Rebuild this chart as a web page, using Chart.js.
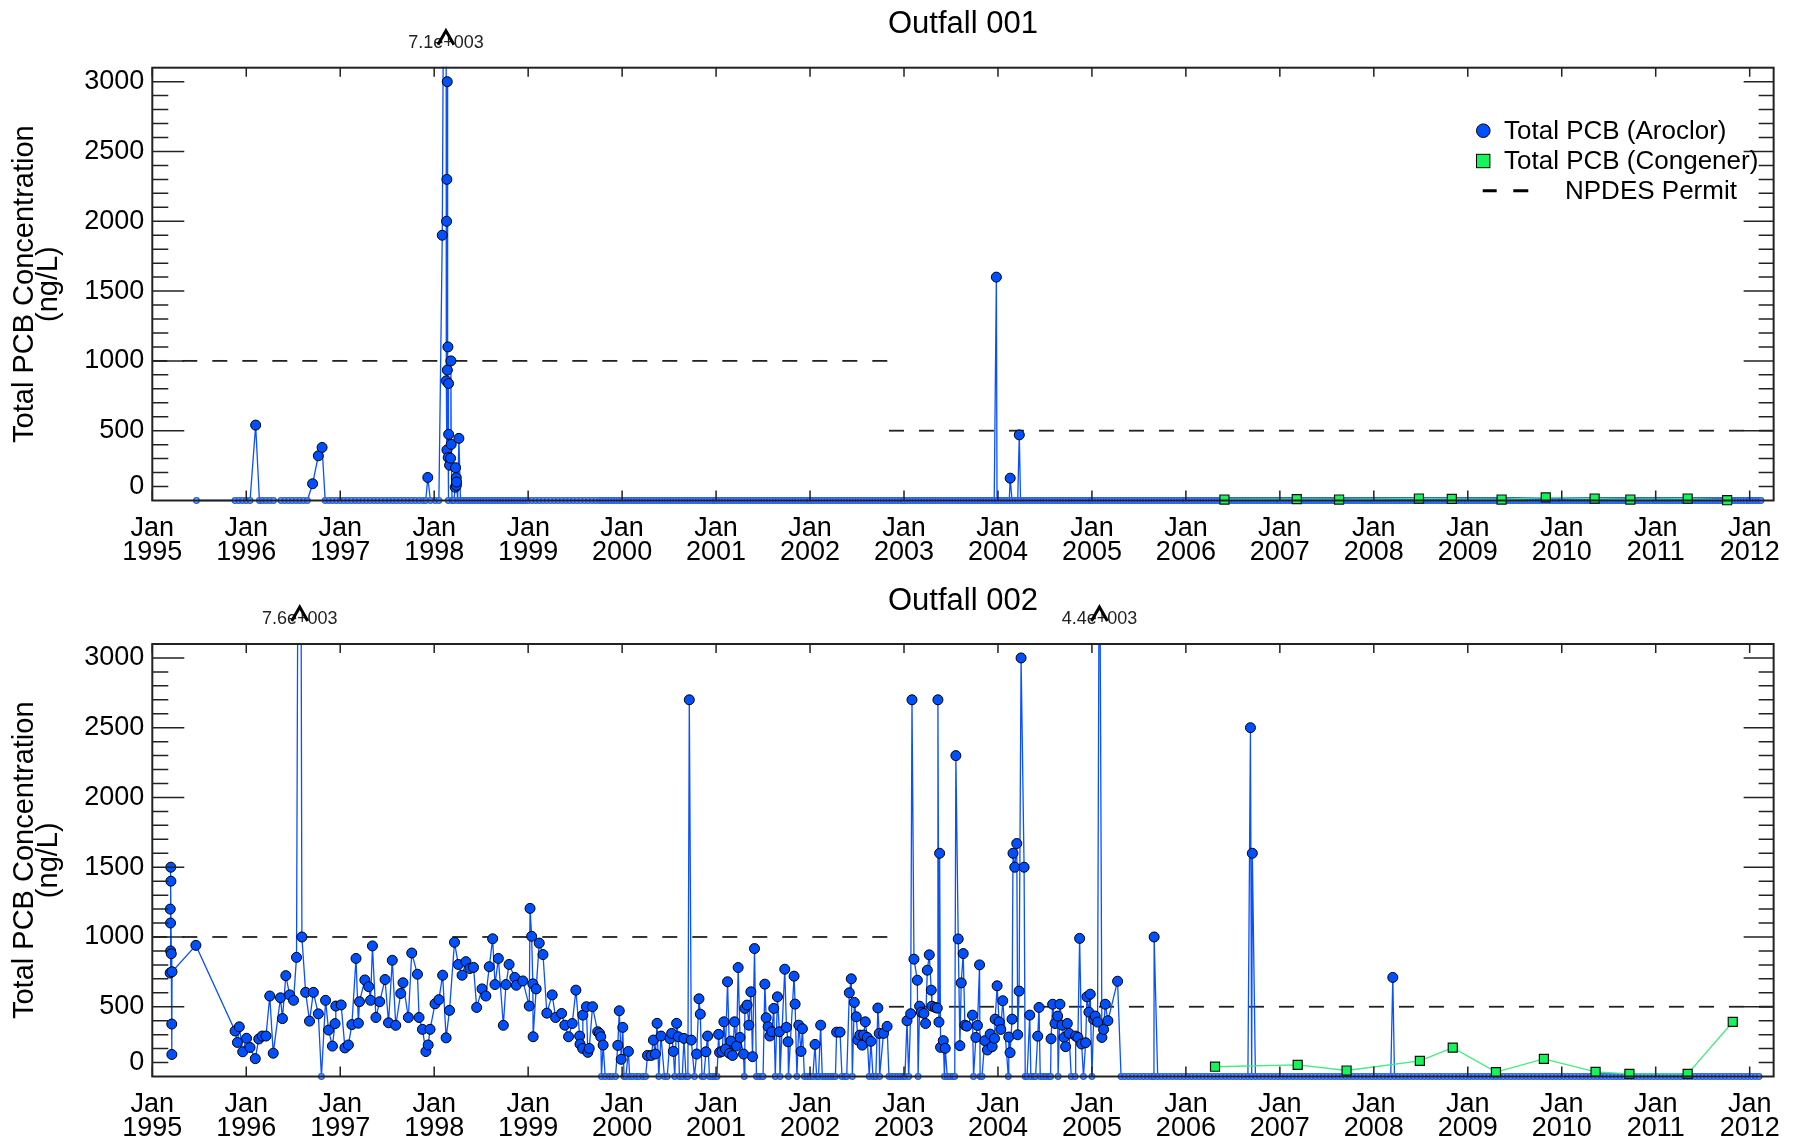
<!DOCTYPE html>
<html lang="en">
<head>
<meta charset="UTF-8">
<title>Total PCB Concentration - Outfall 001 / 002</title>
<script src="https://cdn.jsdelivr.net/npm/chart.js"></script>
<style>
  body { margin: 0; background: #fff; }
  canvas { position: absolute; left: 0; }
  #top { top: 0; }
  #bottom { top: 572px; }
</style>
</head>
<body>
<canvas id="top" width="1796" height="572"></canvas>
<canvas id="bottom" width="1796" height="571"></canvas>
<script>
// x values are decimal years
const yearTicks = [1995, 1996, 1997, 1998, 1999, 2000, 2001, 2002, 2003, 2004, 2005, 2006, 2007, 2008, 2009, 2010, 2011, 2012];
const yLabelTicks = [100, 500, 1000, 1500, 2000, 2500, 3000];
const yLabelText = ['0', '500', '1000', '1500', '2000', '2500', '3000'];
const yMajorTicks = [500, 1000, 1500, 2000, 2500, 3000];
const yMinorTicks = [100, 200, 300, 400, 500, 600, 700, 800, 900, 1000, 1100, 1200, 1300, 1400, 1500,
  1600, 1700, 1800, 1900, 2000, 2100, 2200, 2300, 2400, 2500, 2600, 2700, 2800, 2900, 3000];

// NPDES permit limit (ng/L)
const permitFrom = [1995, 2002.84];
const permitTo = [2002.84, 2012.255];
const permitLimit = [1000, 500];

// Outfall 001 - Aroclor detects
const aroclor001Dates = [1996.10, 1996.706, 1996.767, 1996.807, 1997.932, 1998.086, 1998.125, 1998.129, 1998.132,
  1998.135, 1998.136, 1998.139, 1998.140, 1998.146, 1998.149, 1998.153, 1998.154, 1998.164, 1998.174, 1998.178,
  1998.181, 1998.224, 1998.227, 1998.235, 1998.236, 1998.238, 1998.263, 2003.983, 2004.13, 2004.227];
const aroclor001Values = [540, 120, 320, 380, 165, 1900, 7100, 857, 2000,
  2300, 362, 3000, 934, 1100, 308, 838, 474, 253, 303, 1000,
  402, 95, 235, 163, 109, 132, 445, 1600, 160, 470];
// Outfall 001 - Aroclor non-detects, "year: hundredths of year"
const nd001Dates = [
  '1995: 47 88 92 96',
  '1996: 00 04 14 17 21 25 29 37 41 45 49 53 57 61 65 84 88 92 96',
  '1997: 00 04 08 12 16 20 24 28 32 36 40 44 48 52 56 60 64 68 72 76 80 84 88 91 96',
  '1998: 01 05 15 19 21 25 28 31 34 37 40 43 46 49 52 55 58 61 64 67 70 73 76 79 82 85 88 91 94 97',
  '1999: 00 04 08 12 16 20 24 28 32 36 40 44 48 52 56 60 64 68 72 76 79 82 85 88 91 94 97',
  '2000: 00 03 06 09 12 15 18 21 24 27 30 33 36 39 42 45 48 51 54 57 60 63 66 69 72 75 78 81 84 87 90 93 96 99',
  '2001: 00 03 06 09 12 15 18 21 24 27 30 33 36 39 42 45 48 51 54 57 60 63 66 69 72 75 78 81 84 87 90 93 96 99',
  '2002: 00 03 06 09 12 15 18 21 24 27 30 33 36 39 42 45 48 51 54 57 60 63 66 69 72 75 78 81 84 87 90 93 96 99',
  '2003: 00 03 06 09 12 15 18 21 24 27 30 33 36 39 42 45 48 51 54 57 60 63 66 69 72 75 78 81 84 87 90 93 96 99',
  '2004: 00 03 06 09 12 15 18 21 24 27 30 33 36 39 42 45 48 51 54 57 60 63 66 69 72 75 78 81 84 87 90 93 96 99',
  '2005: 00 03 06 09 12 15 18 21 24 27 30 33 36 39 42 45 48 51 54 57 60 63 66 69 72 75 78 81 84 87 90 93 96 99',
  '2006: 00 03 06 09 12 15 18 21 24 27 30 33 36 39 42 45 48 51 54 57 60 63 66 69 72 75 78 81 84 87 90 93 96 99',
  '2007: 00 03 06 09 12 15 18 21 24 27 30 33 36 39 42 45 48 51 54 57 60 63 66 69 72 75 78 81 84 87 90 93 96 99',
  '2008: 00 03 06 09 12 15 18 21 24 27 30 33 36 39 42 45 48 51 54 57 60 63 66 69 72 75 78 81 84 87 90 93 96 99',
  '2009: 00 03 06 09 12 15 18 21 24 27 30 33 36 39 42 45 48 51 54 57 60 63 66 69 72 75 78 81 84 87 90 93 96 99',
  '2010: 00 03 06 09 12 15 18 21 24 27 30 33 36 39 42 45 48 51 54 57 60 63 66 69 72 75 78 81 84 87 90 93 96 99',
  '2011: 00 03 06 09 12 15 18 21 24 27 30 33 36 39 42 45 48 51 54 57 60 63 66 69 72 75 78 81 84 87 90 93 96 99',
  '2012: 00 03 06 09 12'
];
// Outfall 001 - Congener
const congener001Dates = [2006.41, 2007.18, 2007.63, 2008.48, 2008.83, 2009.36, 2009.83, 2010.35, 2010.73, 2011.34, 2011.76];
const congener001Values = [7, 10, 7, 14, 12, 7, 22, 14, 7, 14, 2];

// Outfall 002 - Aroclor detects
const aroclor002Dates = [1995.190, 1995.191, 1995.194, 1995.195, 1995.197, 1995.198, 1995.202, 1995.207, 1995.208, 1995.210,
  1995.464, 1995.881, 1995.906, 1995.926, 1995.962, 1996.003, 1996.040, 1996.096, 1996.133, 1996.170,
  1996.210, 1996.250, 1996.287, 1996.364, 1996.385, 1996.421, 1996.462, 1996.503, 1996.535, 1996.569,
  1996.592, 1996.632, 1996.673, 1996.714, 1996.767, 1996.844, 1996.876, 1996.917, 1996.945, 1996.953,
  1997.010, 1997.050, 1997.087, 1997.124, 1997.168, 1997.193, 1997.205, 1997.262, 1997.303, 1997.323,
  1997.343, 1997.380, 1997.420, 1997.477, 1997.514, 1997.554, 1997.591, 1997.644, 1997.668, 1997.725,
  1997.761, 1997.822, 1997.839, 1997.875, 1997.912, 1997.936, 1997.956, 1998.009, 1998.050, 1998.090,
  1998.127, 1998.163, 1998.216, 1998.257, 1998.297, 1998.338, 1998.379, 1998.419, 1998.452, 1998.509,
  1998.550, 1998.586, 1998.622, 1998.647, 1998.683, 1998.736, 1998.764, 1998.797, 1998.858, 1998.874,
  1998.943, 1999.012, 1999.020, 1999.037, 1999.050, 1999.053, 1999.085, 1999.118, 1999.158, 1999.199,
  1999.256, 1999.292, 1999.356, 1999.390, 1999.430, 1999.469, 1999.508, 1999.548, 1999.552, 1999.580,
  1999.582, 1999.620, 1999.635, 1999.650, 1999.685, 1999.740, 1999.760, 1999.773, 1999.798, 1999.954,
  1999.970, 1999.990, 2000.007, 2000.067, 2000.270, 2000.310, 2000.333, 2000.354, 2000.372, 2000.414,
  2000.510, 2000.527, 2000.545, 2000.580, 2000.598, 2000.658, 2000.715, 2000.736, 2000.793, 2000.818,
  2000.832, 2000.892, 2000.910, 2001.027, 2001.037, 2001.065, 2001.083, 2001.100, 2001.122, 2001.143,
  2001.157, 2001.175, 2001.196, 2001.218, 2001.235, 2001.255, 2001.292, 2001.306, 2001.330, 2001.349,
  2001.370, 2001.388, 2001.409, 2001.519, 2001.533, 2001.554, 2001.572, 2001.593, 2001.614, 2001.653,
  2001.674, 2001.731, 2001.749, 2001.766, 2001.830, 2001.841, 2001.880, 2001.904, 2001.919, 2002.053,
  2002.113, 2002.283, 2002.319, 2002.418, 2002.439, 2002.471, 2002.492, 2002.510, 2002.530, 2002.556,
  2002.570, 2002.588, 2002.609, 2002.648, 2002.722, 2002.736, 2002.782, 2002.820, 2003.032, 2003.071,
  2003.085, 2003.106, 2003.142, 2003.166, 2003.184, 2003.212, 2003.230, 2003.248, 2003.269, 2003.290,
  2003.297, 2003.333, 2003.354, 2003.361, 2003.372, 2003.379, 2003.389, 2003.418, 2003.439, 2003.552,
  2003.577, 2003.595, 2003.609, 2003.630, 2003.648, 2003.669, 2003.729, 2003.765, 2003.782, 2003.804,
  2003.860, 2003.888, 2003.917, 2003.938, 2003.963, 2003.970, 2003.991, 2004.012, 2004.030, 2004.051,
  2004.115, 2004.129, 2004.150, 2004.160, 2004.179, 2004.200, 2004.210, 2004.225, 2004.246, 2004.278,
  2004.338, 2004.423, 2004.437, 2004.565, 2004.582, 2004.607, 2004.635, 2004.660, 2004.681, 2004.703,
  2004.720, 2004.738, 2004.756, 2004.827, 2004.851, 2004.869, 2004.890, 2004.933, 2004.947, 2004.968,
  2004.982, 2005.018, 2005.035, 2005.060, 2005.080, 2005.106, 2005.124, 2005.142, 2005.170, 2005.273,
  2005.662, 2006.687, 2006.707, 2008.202];
const aroclor002Values = [742, 1200, 1100, 900, 1500, 1400, 880, 376, 158, 751,
  940, 326, 244, 356, 177, 274, 208, 128, 269, 290,
  290, 577, 167, 564, 415, 723, 585, 546, 854, 7600,
  1000, 603, 397, 603, 449, 546, 333, 218, 379, 505,
  513, 205, 226, 372, 846, 382, 536, 692, 644, 546,
  936, 423, 536, 695, 385, 833, 367, 595, 672, 423,
  885, 733, 423, 338, 179, 226, 338, 521, 551, 726,
  277, 474, 962, 803, 726, 823, 774, 782, 495, 628,
  577, 787, 987, 659, 846, 367, 659, 803, 710, 654,
  685, 505, 1205, 1005, 664, 285, 628, 956, 874, 454,
  585, 423, 452, 368, 285, 380, 619, 290, 232, 201,
  440, 500, 173, 201, 500, 321, 309, 285, 225, 223,
  471, 123, 352, 180, 151, 151, 261, 161, 381, 290,
  271, 309, 180, 381, 285, 273, 2700, 261, 161, 557,
  447, 177, 290, 302, 173, 180, 392, 197, 679, 166,
  254, 151, 392, 218, 781, 280, 161, 488, 512, 368,
  607, 142, 917, 662, 421, 357, 290, 321, 488, 571,
  321, 769, 352, 249, 719, 519, 368, 180, 342, 230,
  368, 318, 318, 600, 700, 531, 428, 261, 297, 225,
  297, 392, 280, 252, 491, 309, 309, 359, 400, 450,
  2700, 841, 690, 504, 461, 452, 380, 762, 872, 619,
  504, 495, 490, 2700, 390, 1600, 209, 257, 202, 2300,
  986, 221, 671, 881, 368, 361, 440, 280, 366, 800,
  257, 190, 304, 214, 273, 411, 650, 392, 337, 543,
  283, 171, 411, 1600, 1500, 1670, 299, 612, 3000, 1500,
  440, 289, 495, 270, 518, 380, 433, 518, 368, 280,
  214, 380, 309, 290, 280, 990, 233, 242, 571, 461,
  590, 409, 433, 390, 4400, 280, 337, 518, 400, 683,
  1000, 2500, 1600, 710];
// Outfall 002 - Aroclor non-detects
const nd002Dates = [
  '1996: 80',
  '1999: 78 82 86 89 93',
  '2000: 02 04 08 11 15 18 22 25 39 45 48 56 61 64 68 70 77 85 87 93 96 99',
  '2001: 01 30 43 46 49 50 63 68 77 86 94 97',
  '2002: 00 03 07 09 13 16 19 22 25 27 34 37 39 45 63 67 70 74 84 87 90 93 96 99',
  '2003: 01 05 15 43 46 49 52 54 74 81 83',
  '2004: 11 29 31 35 38 40 45 48 51 54 56 64 78 82 91',
  '2005: 00 31 35 39 43 47 51 55 59 63 66 70 74 78 82 86 90 94 98',
  '2006: 02 06 10 14 18 22 26 30 34 38 42 46 50 54 58 62 66 70 74 78 82 86 90 94 98',
  '2007: 02 06 10 14 18 22 26 30 34 38 42 46 50 54 58 62 66 70 74 78 82 86 90 94 98',
  '2008: 02 06 10 14 18 22 26 30 34 38 42 46 50 54 58 62 66 70 74 78 82 86 90 94 98',
  '2009: 02 06 10 14 18 22 26 30 34 38 42 46 50 54 58 62 66 70 74 78 82 86 90 94 98',
  '2010: 02 06 10 14 18 22 26 30 34 38 42 46 50 54 58 62 66 70 74 78 82 86 90 94 98',
  '2011: 02 06 10 14 18 22 26 30 34 38 42 46 50 54 58 62 66 70 74 78 82 86 90 94 98',
  '2012: 02 06 10'
];
// Outfall 002 - Congener
const congener002Dates = [2006.31, 2007.19, 2007.71, 2008.49, 2008.84, 2009.30, 2009.81, 2010.36, 2010.72, 2011.34, 2011.82];
const congener002Values = [70, 83, 43, 112, 207, 31, 126, 33, 19, 19, 391];

const X_MIN = 1995, X_MAX = 2012.255, Y_MAX = 3100;
const FONT = "'Liberation Sans', Arial, Helvetica, sans-serif";
const BLUE = '#0050ff';
const GREEN = '#14f55a';

function parseDates(rows) {
  const out = [];
  rows.forEach(r => {
    const parts = r.split(':');
    parts[1].trim().split(/\s+/).forEach(f => out.push(+parts[0] + (+f) / 100));
  });
  return out;
}

function aroclorSeries(dates, values, ndRows) {
  const pts = dates.map((d, i) => ({ x: d, y: values[i], nd: false }))
    .concat(parseDates(ndRows).map(d => ({ x: d, y: 0, nd: true })));
  pts.sort((a, b) => a.x - b.x);
  return pts;
}

function idlExp(v) {
  const p = v.toExponential(1).split('e');
  const e = +p[1];
  return p[0] + 'e' + (e < 0 ? '-' : '+') + String(Math.abs(e)).padStart(3, '0');
}

const decor = {
  id: 'decor',
  afterDraw(chart, args, o) {
    const { ctx, chartArea: a, scales: { x, y } } = chart;
    ctx.save();
    // frame and inward ticks
    ctx.strokeStyle = '#222';
    ctx.lineWidth = 2;
    ctx.strokeRect(a.left, a.top, a.right - a.left, a.bottom - a.top);
    ctx.lineWidth = 1.5;
    ctx.beginPath();
    yMinorTicks.forEach(v => {
      const py = y.getPixelForValue(v);
      const big = yMajorTicks.includes(v);
      ctx.moveTo(a.left, py); ctx.lineTo(a.left + (big ? 32 : 16), py);
      ctx.moveTo(a.right, py); ctx.lineTo(a.right - (big ? 30 : 15), py);
    });
    yearTicks.forEach(v => {
      const px = x.getPixelForValue(v);
      ctx.moveTo(px, a.bottom); ctx.lineTo(px, a.bottom - 10);
      ctx.moveTo(px, a.top); ctx.lineTo(px, a.top + 9);
    });
    ctx.stroke();

    // title
    ctx.fillStyle = '#000';
    ctx.textAlign = 'center';
    ctx.textBaseline = 'middle';
    ctx.font = '31px ' + FONT;
    ctx.fillText(o.title, (a.left + a.right) / 2, a.top - 43);

    // y axis title
    ctx.save();
    ctx.translate(25, (a.top + a.bottom) / 2);
    ctx.rotate(-Math.PI / 2);
    ctx.font = '29px ' + FONT;
    ctx.fillText('Total PCB Concentration', 0, 0);
    ctx.fillText('(ng/L)', 0, 24);
    ctx.restore();

    // off-scale values
    o.offscale.forEach(p => {
      const px = x.getPixelForValue(p.x);
      ctx.font = '18px ' + FONT;
      ctx.fillStyle = '#222';
      ctx.fillText(idlExp(p.y), px, a.top - 25);
      ctx.beginPath();
      ctx.lineWidth = 3;
      ctx.strokeStyle = '#000';
      ctx.lineJoin = 'miter';
      ctx.moveTo(px - 8, a.top - 23);
      ctx.lineTo(px, a.top - 37);
      ctx.lineTo(px + 8, a.top - 23);
      ctx.stroke();
    });

    // legend
    if (o.legend) {
      ctx.font = '26px ' + FONT;
      ctx.textAlign = 'left';
      ctx.textBaseline = 'alphabetic';
      ctx.lineWidth = 1;
      ctx.strokeStyle = '#000';
      ctx.beginPath();
      ctx.arc(1483.3, 130.7, 6.8, 0, Math.PI * 2);
      ctx.fillStyle = BLUE;
      ctx.fill();
      ctx.stroke();
      ctx.fillStyle = GREEN;
      ctx.fillRect(1476.5, 154.3, 13.4, 13.4);
      ctx.strokeRect(1476.5, 154.3, 13.4, 13.4);
      ctx.lineWidth = 3;
      ctx.beginPath();
      ctx.moveTo(1482.7, 190.7); ctx.lineTo(1496.7, 190.7);
      ctx.moveTo(1513.3, 190.7); ctx.lineTo(1528.3, 190.7);
      ctx.stroke();
      ctx.fillStyle = '#000';
      ctx.fillText('Total PCB (Aroclor)', 1504, 139);
      ctx.fillText('Total PCB (Congener)', 1504, 169);
      ctx.fillText('NPDES Permit', 1565, 199);
    }
    ctx.restore();
  }
};

function makeChart(id, title, aroclorDates, aroclorValues, ndRows, congDates, congValues, padTop, axisH, legend) {
  const series = aroclorSeries(aroclorDates, aroclorValues, ndRows);
  const detects = series.filter(p => !p.nd);
  const offscale = detects.filter(p => p.y > Y_MAX);
  const permitSets = permitLimit.map((lim, i) => ({
    data: [{ x: permitFrom[i], y: lim }, { x: permitTo[i], y: lim }],
    borderColor: '#222', borderWidth: 1.8, borderDash: [15, 15],
    pointRadius: 0, order: 3
  }));
  const clip = { left: 6, right: 6, top: 1, bottom: 6 };
  return new Chart(document.getElementById(id), {
    type: 'line',
    data: {
      datasets: [
        {
          data: detects, showLine: false, pointRadius: 5,
          pointBackgroundColor: BLUE, pointBorderColor: '#000', pointBorderWidth: 1,
          order: 0, clip: clip
        },
        {
          data: congDates.map((d, i) => ({ x: d, y: congValues[i] })),
          borderColor: '#3cf07a', borderWidth: 1.3,
          pointStyle: 'rect', pointRadius: 6.4,
          pointBackgroundColor: GREEN, pointBorderColor: '#111', pointBorderWidth: 1.2,
          order: 1, clip: clip
        },
        {
          data: series, borderColor: '#0a50ff', borderWidth: 1.3,
          pointRadius: c => (c.raw && c.raw.nd ? 2.8 : 0),
          pointBorderColor: '#1f5eff', pointBackgroundColor: 'rgba(120,160,255,0.8)', pointBorderWidth: 1.3,
          order: 2, clip: clip
        }
      ].concat(permitSets)
    },
    options: {
      responsive: false,
      animation: false,
      events: [],
      devicePixelRatio: 1,
      layout: { padding: { top: padTop, right: 20, bottom: 0, left: 0 } },
      plugins: {
        legend: { display: false },
        tooltip: { enabled: false },
        decor: { title: title, legend: legend, offscale: offscale }
      },
      scales: {
        x: {
          type: 'linear', min: X_MIN, max: X_MAX,
          afterBuildTicks: s => { s.ticks = yearTicks.map(v => ({ value: v })); },
          afterFit: s => { s.height = axisH; },
          ticks: {
            callback: v => ['Jan', String(v)],
            font: { family: FONT, size: 27, lineHeight: 0.89 },
            color: '#000', padding: 16, autoSkip: false, maxRotation: 0, minRotation: 0
          },
          grid: { display: false, drawTicks: false },
          border: { display: false }
        },
        y: {
          type: 'linear', min: 0, max: Y_MAX,
          afterBuildTicks: s => { s.ticks = yLabelTicks.map(v => ({ value: v })); },
          afterFit: s => { s.width = 152.3; },
          ticks: {
            callback: (v, i) => yLabelText[i],
            font: { family: FONT, size: 27 },
            color: '#000', padding: 8
          },
          grid: { display: false, drawTicks: false },
          border: { display: false }
        }
      }
    },
    plugins: [decor]
  });
}

makeChart('top', 'Outfall 001', aroclor001Dates, aroclor001Values, nd001Dates,
  congener001Dates, congener001Values, 67.7, 71.5, true);
makeChart('bottom', 'Outfall 002', aroclor002Dates, aroclor002Values, nd002Dates,
  congener002Dates, congener002Values, 72, 66.5, false);
</script>
</body>
</html>
